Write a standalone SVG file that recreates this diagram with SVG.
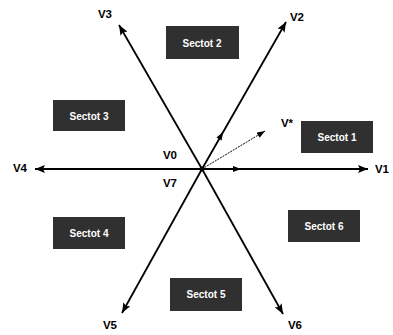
<svg xmlns="http://www.w3.org/2000/svg" width="393" height="335" viewBox="0 0 393 335">
<style>
.ax{stroke:#000;stroke-width:1.8;fill:none}
.cmp{stroke:#000;stroke-width:1;fill:none;stroke-dasharray:2 1}
.vl{font-family:"Liberation Sans",Arial,sans-serif;font-weight:bold;font-size:11.5px;fill:#000;text-anchor:middle;dominant-baseline:central}
.box{fill:#303030}
.st{font-family:"Liberation Sans",Arial,sans-serif;font-weight:bold;font-size:10px;fill:#fff;text-anchor:middle;dominant-baseline:central}
</style>
<defs>
<marker id="ah" viewBox="0 0 10 8" refX="10" refY="4" markerWidth="10" markerHeight="8" markerUnits="userSpaceOnUse" orient="auto">
<path d="M0,0 L10,4 L0,8 L2,4 Z" fill="#000"/>
</marker>
<marker id="sh" viewBox="0 0 8 6" refX="8" refY="3" markerWidth="9" markerHeight="6" markerUnits="userSpaceOnUse" orient="auto">
<path d="M0,0 L8,3 L0,6 Z" fill="#000"/>
</marker>
</defs>
<rect width="393" height="335" fill="#fff"/>
<g id="connectors">
<line class="ax" x1="202" y1="169" x2="368" y2="169" marker-end="url(#ah)"/>
<line class="ax" x1="202" y1="169" x2="35" y2="169" marker-end="url(#ah)"/>
<line class="ax" x1="202" y1="169" x2="286" y2="22" marker-end="url(#ah)"/>
<line class="ax" x1="202" y1="169" x2="119" y2="25" marker-end="url(#ah)"/>
<line class="ax" x1="202" y1="169" x2="122" y2="313" marker-end="url(#ah)"/>
<line class="ax" x1="202" y1="169" x2="283" y2="314" marker-end="url(#ah)"/>
<line class="cmp" x1="202" y1="169" x2="223" y2="132" marker-end="url(#sh)"/>
<line class="cmp" x1="202" y1="169" x2="241" y2="169" marker-end="url(#sh)"/>
<line class="cmp" x1="202" y1="169" x2="265" y2="131" marker-end="url(#sh)"/>
<circle cx="202" cy="169" r="2.5" fill="#000"/>
</g>
<g id="V1"><text class="vl" x="382" y="169">V1</text></g>
<g id="V2"><text class="vl" x="297" y="17">V2</text></g>
<g id="V3"><text class="vl" x="105" y="14">V3</text></g>
<g id="V4"><text class="vl" x="20" y="168">V4</text></g>
<g id="V5"><text class="vl" x="110" y="325">V5</text></g>
<g id="V6"><text class="vl" x="295" y="325">V6</text></g>
<g id="V0"><text class="vl" x="170" y="155">V0</text></g>
<g id="V7"><text class="vl" x="170" y="183">V7</text></g>
<g id="Vstar"><text class="vl" x="287" y="123">V*</text></g>
<g id="sector1"><rect class="box" x="301" y="121" width="72" height="32"/><text class="st" x="337" y="137">Sectot 1</text></g>
<g id="sector2"><rect class="box" x="166" y="26" width="73" height="33"/><text class="st" x="202" y="43">Sectot 2</text></g>
<g id="sector3"><rect class="box" x="53" y="100" width="72" height="31"/><text class="st" x="89" y="116">Sectot 3</text></g>
<g id="sector4"><rect class="box" x="53" y="217" width="72" height="32"/><text class="st" x="89" y="233">Sectot 4</text></g>
<g id="sector5"><rect class="box" x="170" y="278" width="72" height="33"/><text class="st" x="206" y="294">Sectot 5</text></g>
<g id="sector6"><rect class="box" x="288" y="210" width="72" height="32"/><text class="st" x="324" y="226">Sectot 6</text></g>
</svg>
